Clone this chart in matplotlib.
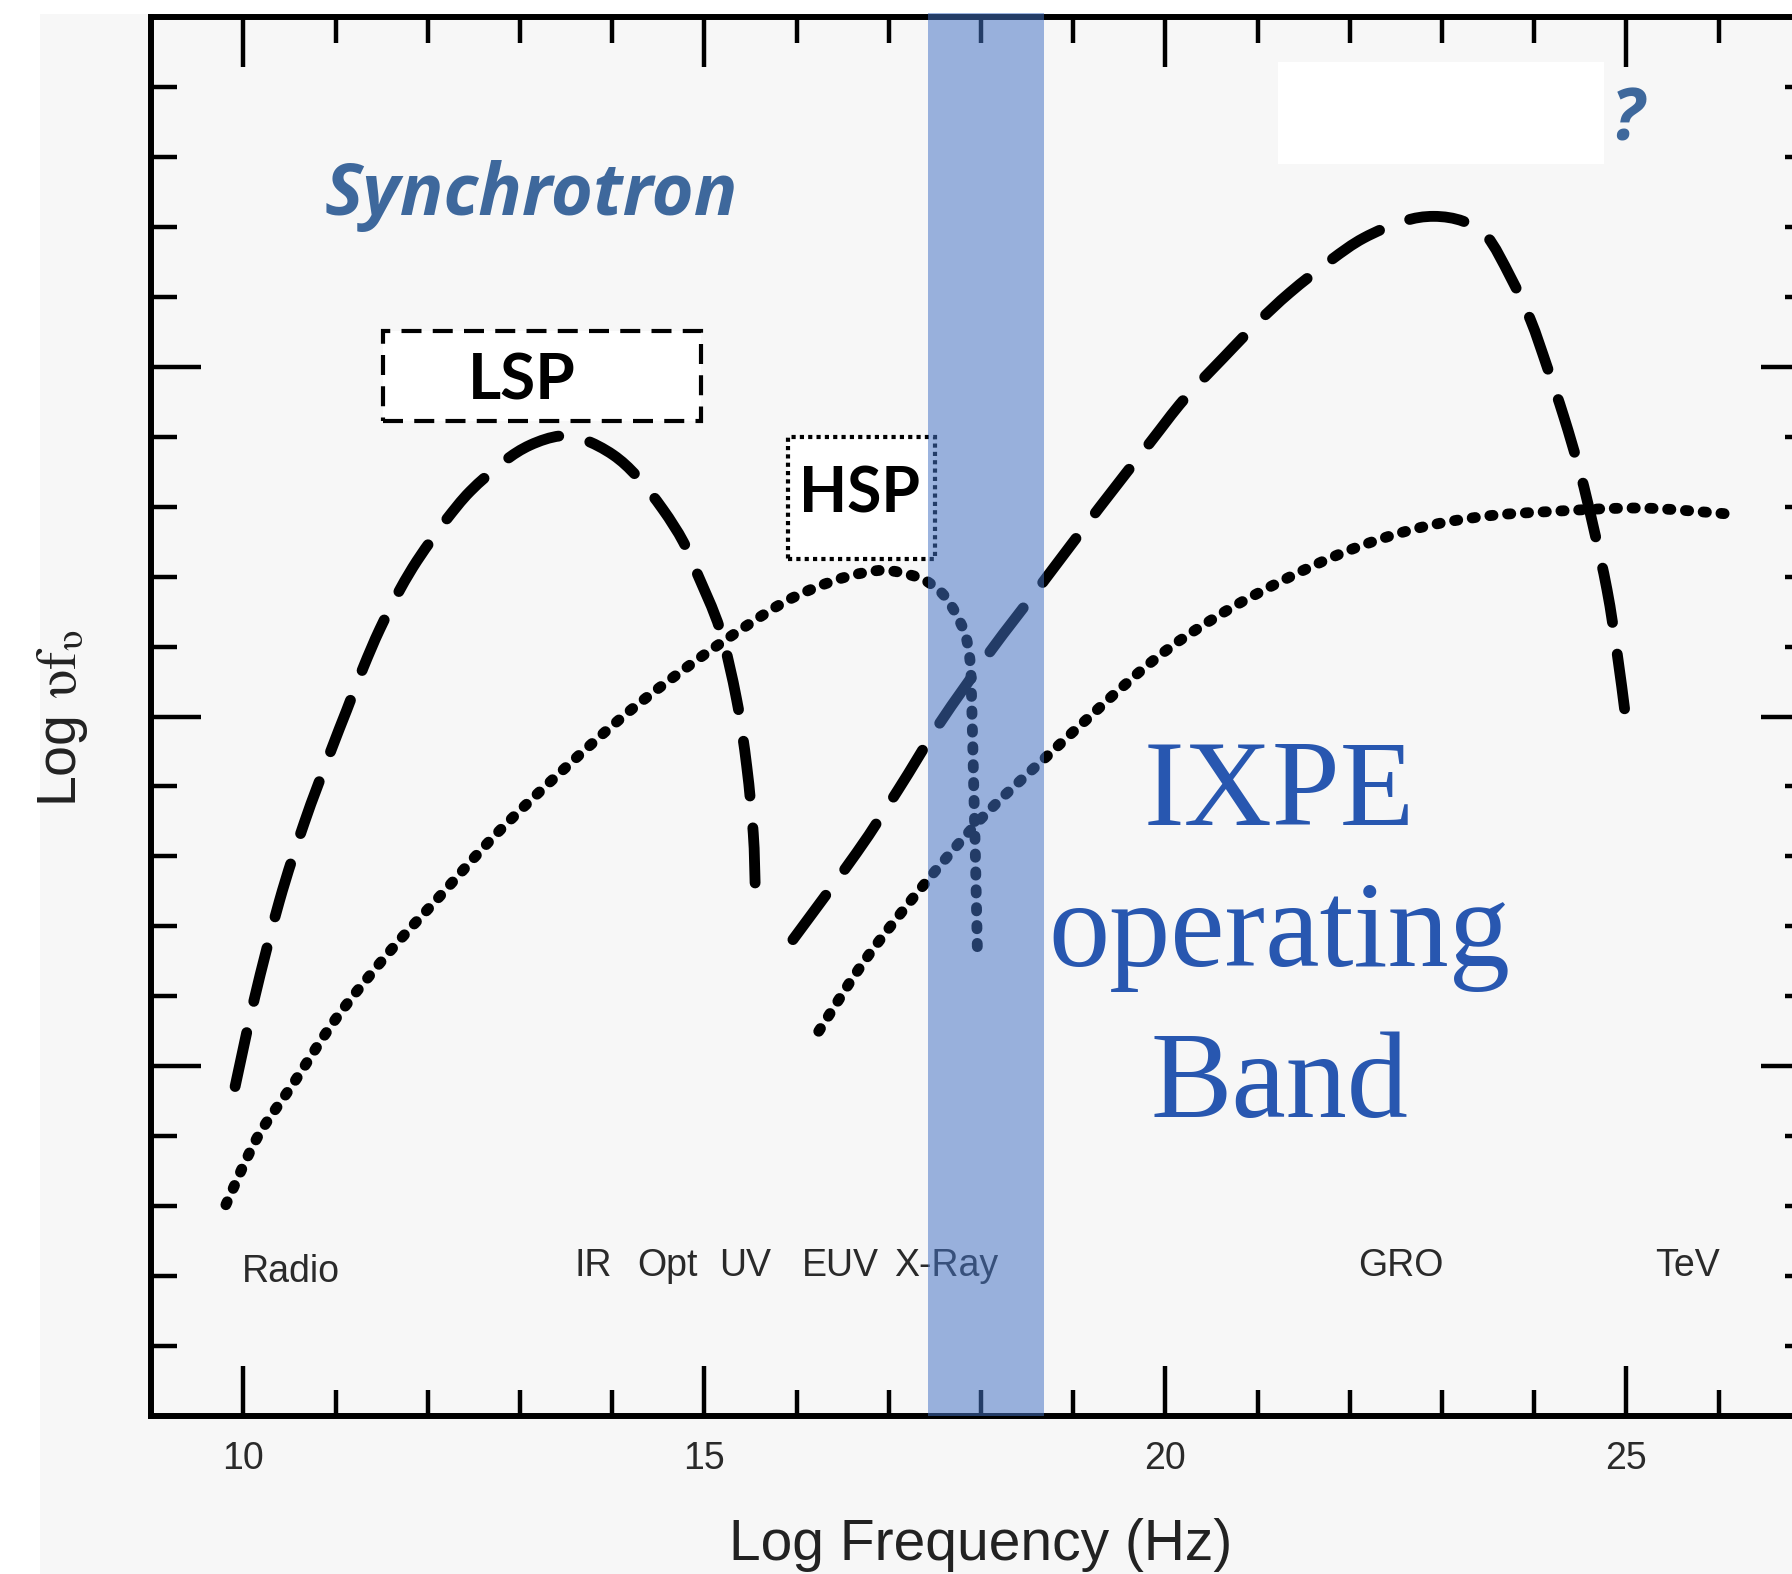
import matplotlib
matplotlib.use("Agg")
import numpy as np
import matplotlib.pyplot as plt
from matplotlib.patches import Rectangle, PathPatch
from matplotlib.path import Path
from matplotlib.ticker import MultipleLocator, FixedLocator

plt.rcParams['mathtext.fontset'] = 'stix'

# ---- data ----
lsp_sync_x = [9.91, 10.12, 10.39, 10.66, 10.94, 11.12, 11.30, 11.48, 11.70, 11.88, 12.06, 12.21, 12.46, 12.82, 13.11,
              13.43, 13.69, 14.01, 14.27, 14.55, 14.77, 14.92, 15.17, 15.35, 15.46, 15.53, 15.55]
lsp_sync_y = [4.71, 5.97, 7.36, 8.48, 9.48, 10.09, 10.70, 11.25, 11.82, 12.22, 12.56, 12.83, 13.22, 13.64, 13.88,
              14.01, 13.96, 13.74, 13.43, 12.96, 12.50, 12.05, 11.24, 10.24, 9.28, 8.33, 7.62]

hsp_sync_x = [9.81, 10.15, 10.54, 11.02, 11.60, 12.13, 12.75, 13.47, 14.19, 14.92, 15.46, 15.86, 16.22, 16.58,
              16.94, 17.27, 17.45, 17.63, 17.81, 17.88, 17.90, 17.92, 17.94, 17.96]
hsp_sync_y = [3.02, 3.98, 4.75, 5.71, 6.66, 7.43, 8.33, 9.24, 10.08, 10.81, 11.30, 11.63, 11.85, 12.01,
              12.09, 12.01, 11.90, 11.68, 11.24, 10.81, 10.15, 9.06, 7.96, 6.71]

lsp_ic_x = [15.96, 16.65, 17.10, 17.55, 18.10, 18.66, 19.28, 19.83, 20.20, 20.63, 20.99, 21.35, 21.79, 22.15,
            22.58, 22.91, 23.23, 23.49, 23.74, 23.96, 24.14, 24.32, 24.50, 24.64, 24.79, 24.90, 24.98]
lsp_ic_y = [6.81, 8.05, 8.95, 9.90, 10.93, 11.90, 12.98, 13.91, 14.53, 15.13, 15.62, 16.06, 16.52, 16.84,
            17.08, 17.15, 17.08, 16.86, 16.29, 15.67, 15.00, 14.29, 13.48, 12.72, 11.81, 10.90, 10.11]

hsp_ic_x = [16.24, 16.86, 17.89, 18.73, 19.83, 20.56, 21.28, 22.00, 22.73, 23.45, 24.17, 25.15, 26.06]
hsp_ic_y = [5.50, 6.73, 8.38, 9.45, 10.76, 11.43, 11.95, 12.38, 12.69, 12.86, 12.93, 12.98, 12.90]

band_range = (17.43, 18.68)

x_major = [10, 15, 20, 25]
x_major_labels = ["10", "15", "20", "25"]
y_major = [5, 10, 15]

region_labels = ["Radio", "IR", "Opt", "UV", "EUV", "X-Ray", "GRO", "TeV"]
region_x = [10.52, 13.79, 14.60, 15.44, 16.47, 17.62, 22.55, 25.66]
region_y = [2.06, 2.14, 2.14, 2.14, 2.14, 2.14, 2.14, 2.14]


def curve_path(xs, ys):
    """Smooth Bezier path through the given points (drawn by matplotlib)."""
    pts = np.column_stack([xs, ys]).astype(float)
    n = len(pts)
    verts = [pts[0]]
    codes = [Path.MOVETO]
    for i in range(n - 1):
        p0 = pts[i - 1] if i > 0 else pts[i]
        p1, p2 = pts[i], pts[i + 1]
        p3 = pts[i + 2] if i + 2 < n else pts[i + 1]
        verts += [p1 + (p2 - p0) / 6.0, p2 - (p3 - p1) / 6.0, p2]
        codes += [Path.CURVE4] * 3
    return Path(verts, codes)


# ---- figure ----
W, H = 1792, 1574
DPI = 100
fig = plt.figure(figsize=(W / DPI, H / DPI), dpi=DPI)
fig.patch.set_facecolor("white")
fig.patches.append(Rectangle((40 / W, 0), 1 - 40 / W, 1 - 14 / H, transform=fig.transFigure,
                             facecolor="#f7f7f7", edgecolor="none", zorder=-5))

ax = fig.add_axes([151.2 / W, (H - 1416) / H, 1659.6 / W, 1399 / H])
ax.patch.set_alpha(0)
ax.set_xlim(9, 27)
ax.set_ylim(0, 20)

for s in ax.spines.values():
    s.set_linewidth(4.3)
    s.set_color("black")

ax.xaxis.set_major_locator(FixedLocator(x_major))
ax.xaxis.set_minor_locator(MultipleLocator(1))
ax.yaxis.set_major_locator(FixedLocator(y_major))
ax.yaxis.set_minor_locator(MultipleLocator(1))
ax.set_xticklabels(x_major_labels)
ax.set_yticklabels([])
ax.tick_params(which="both", direction="in", top=True, right=True, width=3.2, color="black")
ax.tick_params(which="major", length=36)
ax.tick_params(which="minor", length=19)
ax.tick_params(axis="x", which="major", pad=18, labelsize=27, labelcolor="#2a2a2a")
for lab in ax.get_xticklabels():
    lab.set_fontfamily("Liberation Sans")

# curves
LW = 7.8


def fitted_dashes(path, on, off):
    """Stretch the dash pattern slightly so the curve starts and ends with a dash."""
    poly = path.transformed(ax.transData).to_polygons(closed_only=False)[0]
    length = np.sum(np.hypot(np.diff(poly[:, 0]), np.diff(poly[:, 1])))
    scale_px = LW * DPI / 72.0
    on_px, per_px = on * scale_px, (on + off) * scale_px
    n = max(1, round((length - on_px) / per_px))
    s = length / (n * per_px + on_px)
    return (0, (on * s, off * s))


for xs, ys, kind in [(lsp_sync_x, lsp_sync_y, "dash"),
                     (lsp_ic_x, lsp_ic_y, "dash"),
                     (hsp_sync_x, hsp_sync_y, "dot"),
                     (hsp_ic_x, hsp_ic_y, "dot")]:
    path = curve_path(xs, ys)
    style = fitted_dashes(path, 5.0, 2.9) if kind == "dash" else fitted_dashes(path, 0.3, 1.35)
    patch = PathPatch(path, fill=False, edgecolor="black", lw=LW,
                      linestyle=style, capstyle="round", joinstyle="round", zorder=3)
    ax.add_patch(patch)

# region labels
for t, x, y in zip(region_labels, region_x, region_y):
    ax.text(x, y, t, ha="center", va="center", fontsize=27, color="#2a2a2a",
            family="Liberation Sans", zorder=4)

# LSP / HSP boxes
ax.add_patch(Rectangle((11.51, 14.23), 14.96 - 11.51, 15.51 - 14.23, facecolor="white",
                       edgecolor="black", lw=3.0, linestyle=(0, (4.8, 2.7)), zorder=4))
ax.text(13.02, 14.80, "LSP", ha="center", va="center", fontsize=46, fontweight="bold",
        family="Lato", color="black", zorder=5)
ax.add_patch(Rectangle((15.91, 12.25), 17.50 - 15.91, 13.99 - 12.25, facecolor="white",
                       edgecolor="black", lw=3.0, linestyle=(0, (1.0, 1.0)), zorder=4))
ax.text(16.68, 13.18, "HSP", ha="center", va="center", fontsize=45, fontweight="bold",
        family="Lato", color="black", zorder=5)

# white cover rectangle and question mark
ax.add_patch(Rectangle((21.22, 17.90), 24.76 - 21.22, 19.36 - 17.90, facecolor="white",
                       edgecolor="none", zorder=4, clip_on=False))
ax.text(25.0, 18.23, "?", ha="center", va="baseline", fontsize=52, fontweight="bold",
        fontstyle="italic", family="Open Sans", color="#3e689c", zorder=5)

ax.text(10.88, 17.17, "Synchrotron", ha="left", va="baseline", fontsize=52, fontweight="bold",
        fontstyle="italic", family="Open Sans", color="#3e689c", zorder=5)

# IXPE band
ax.axvspan(band_range[0], band_range[1], ymin=0, ymax=1.003, facecolor="#4472c4",
           alpha=0.53, edgecolor="none", zorder=10, clip_on=False)

ixpe_col = "#2857b0"
ax.text(21.24, 8.45, "IXPE", ha="center", va="baseline", fontsize=88, family="Liberation Serif",
        color=ixpe_col, zorder=11)
ax.text(21.24, 6.43, "operating", ha="center", va="baseline", fontsize=88, family="Liberation Serif",
        color=ixpe_col, zorder=11)
ax.text(21.24, 4.28, "Band", ha="center", va="baseline", fontsize=88, family="Liberation Serif",
        color=ixpe_col, zorder=11)

# axis labels
fig.text(981 / W, 14 / H, "Log Frequency (Hz)", ha="center", va="baseline", fontsize=41,
         family="Liberation Sans", color="#222222")
fig.text(62 / W, 1 - 718 / H, r"Log $\mathrm{υ f_{υ}}$", rotation=90, ha="center",
         va="center", fontsize=40, family="Liberation Sans", color="#222222")

fig.savefig("out.png", dpi=DPI)
